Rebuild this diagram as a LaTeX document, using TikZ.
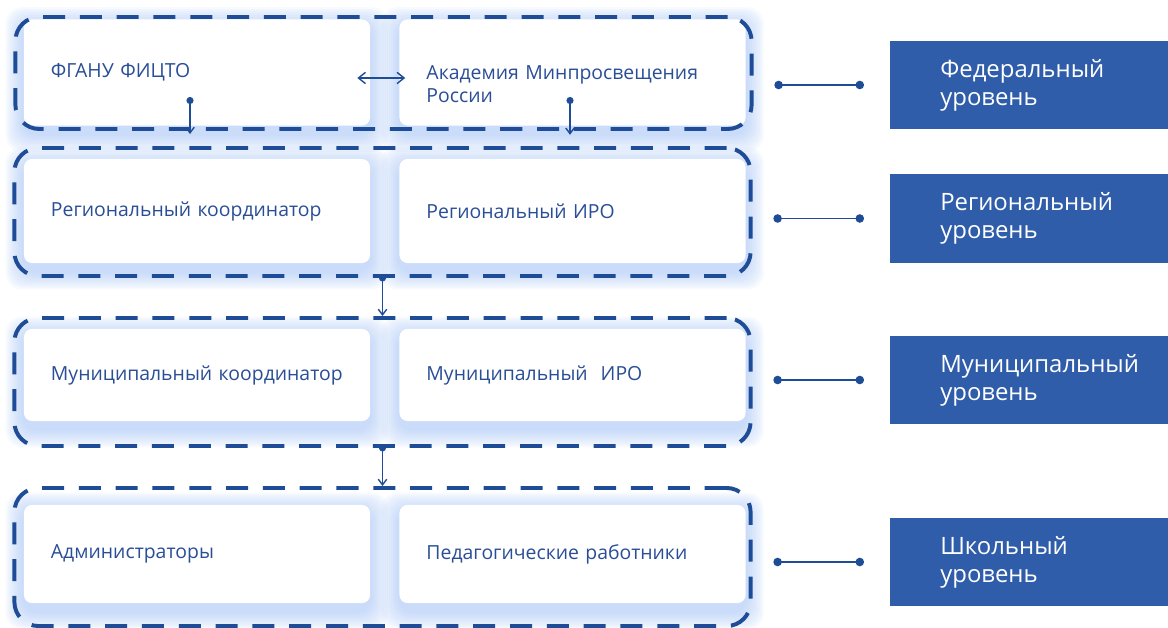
\documentclass[tikz,border=0pt]{standalone}
\usepackage{fontspec}
\setmainfont{Open Sans}
\usepackage{tikz}
\usetikzlibrary{positioning,arrows.meta,calc,backgrounds}
\definecolor{frameblue}{RGB}{31,76,150}
\definecolor{levelblue}{RGB}{47,93,169}
\definecolor{cardtext}{RGB}{42,78,150}
\definecolor{glowblue}{RGB}{160,192,245}

\begin{document}
\begin{tikzpicture}[x = 0.025cm, y = -0.025cm,
    card/.style = {fill = white, rounded corners = 0.2cm, minimum width = 8.65cm, inner xsep = 0.675cm, text width = 7.3cm,
        align = left, text = cardtext, font = \fontsize{13.8}{16.5}\selectfont},
    glow/.style = {fill = glowblue, opacity = 0.085, rounded corners = 0.4cm},
    levelframe/.style = {draw = frameblue, line width = 2.8pt, dash pattern = on 0.55cm off 0.37cm,
        rounded corners = 0.6cm, inner sep = 0, minimum width = 18.4cm},
    levelbox/.style = {fill = levelblue, anchor = west, minimum height = 2.2cm, inner xsep = 1.25cm,
        text width = 5.2cm, align = left, text = white, font = \fontsize{17}{20}\selectfont},
    dotlink/.style = {draw = frameblue, line width = 1.4pt, {Circle[length = 6pt]}-{Circle[length = 6pt]},
        shorten < = 0.52cm, shorten > = 0.65cm},
    downlink/.style = {draw = frameblue, line width = 1pt, {Circle[length = 5pt]}-{Straight Barb[length = 4pt, width = 6pt]}},
    pairlink/.style = {draw = frameblue, line width = 1pt, {Straight Barb[length = 5pt, width = 8pt]}-{Straight Barb[length = 5pt, width = 8pt]}}]

    \useasboundingbox (0, 0) rectangle (1168, 628);

    \node[card, minimum height = 2.65cm] (fganu) at (197, 72.5) {ФГАНУ ФИЦТО};
    \node[card, minimum height = 2.65cm, text height = 0.93cm] (akad) at (572.5, 72.5) {Академия Минпросвещения\\России};
    \node[card, minimum height = 2.6cm] (regcoord) at (197, 211) {Региональный координатор};
    \node[card, minimum height = 2.6cm] (regiro) at (572.5, 211) {Региональный ИРО};
    \node[card, minimum height = 2.3cm] (muncoord) at (197, 375) {Муниципальный координатор};
    \node[card, minimum height = 2.3cm] (muniro) at (572.5, 375) {Муниципальный\ \ ИРО};
    \node[card, minimum height = 2.45cm] (admin) at (197, 554) {Администраторы};
    \node[card, minimum height = 2.45cm] (teach) at (572.5, 554) {Педагогические работники};

    \begin{scope}[on background layer]
        \foreach \c in {fganu, akad, regcoord, regiro, muncoord, muniro, admin, teach}
            \foreach \g in {1,...,9}
                \fill[glow] ([shift = {(-2*\g, -2*\g + 6)}]\c.north west) rectangle ([shift = {(2*\g, 2*\g + 8)}]\c.south east);
    \end{scope}

    \node[levelframe, minimum height = 2.8cm] (fedframe) at (383.5, 73) {};
    \node[levelframe, minimum height = 3.2cm] (regframe) at (382.5, 212) {};
    \node[levelframe, minimum height = 3.2cm] (munframe) at (382.5, 382) {};
    \node[levelframe, minimum height = 3.45cm] (schframe) at (382.5, 557) {};

    \node[levelbox] (fedlvl) at (890, 85) {Федеральный\\уровень};
    \node[levelbox] (reglvl) at (890, 218.5) {Региональный\\уровень};
    \node[levelbox] (munlvl) at (890, 380) {Муниципальный\\уровень};
    \node[levelbox] (schlvl) at (890, 562) {Школьный\\уровень};

    \coordinate (fganudot) at (190, 97);
    \coordinate (akaddot) at (570, 97);

    \draw[pairlink] ([shift = {(-13, 5.5)}]fganu.east) -- ([shift = {(6, 5.5)}]akad.west);
    \draw[downlink, shorten > = 0.3cm] (fganudot) -- (fganudot |- regframe.north);
    \draw[downlink, shorten > = 0.28cm] (akaddot) -- (akaddot |- regframe.north);
    \draw[downlink] ([yshift = 2.5pt]regframe.south) -- (munframe.north);
    \draw[downlink] ([yshift = 2.5pt]munframe.south) -- (schframe.north);

    \draw[dotlink] (fedframe.east |- fedlvl.west) -- (fedlvl.west);
    \draw[dotlink] (regframe.east |- reglvl.west) -- (reglvl.west);
    \draw[dotlink] (munframe.east |- munlvl.west) -- (munlvl.west);
    \draw[dotlink] (schframe.east |- schlvl.west) -- (schlvl.west);
\end{tikzpicture}
\end{document}
